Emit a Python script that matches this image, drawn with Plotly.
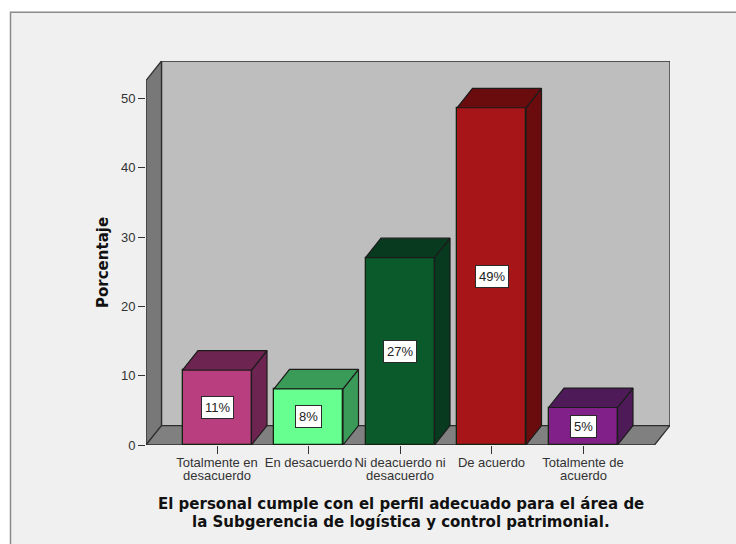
import plotly.graph_objects as go

categories = ["Totalmente en", "En desacuerdo", "Ni deacuerdo ni", "De acuerdo", "Totalmente de"]
second_lines = ["desacuerdo", "", "desacuerdo", "", "acuerdo"]
values = [10.81, 8.11, 27.03, 48.65, 5.41]
labels = ["11%", "8%", "27%", "49%", "5%"]
front_colors = ["#b83e80", "#66ff90", "#0a5a2c", "#a81518", "#82208a"]
side_colors = ["#6e2450", "#3a9a58", "#073a1e", "#6a0c0e", "#4e1a58"]
y_ticks = [0, 10, 20, 30, 40, 50]

W, H = 736, 544
L, R, T, B = 146, 670, 60.5, 445.5
PX_PER_UNIT_Y = 6.95
PX_PER_CAT = 91.5
X0 = -(217 - L) / PX_PER_CAT
xr = [X0, X0 + (R - L) / PX_PER_CAT]
yr = [0, (B - T) / PX_PER_UNIT_Y]
DX = 15.5 / PX_PER_CAT
DY = 19.5 / PX_PER_UNIT_Y
BAR_W = 69 / PX_PER_CAT
xfront_end = xr[1] - DX

fig = go.Figure()

fig.add_bar(x=list(range(5)), y=values, width=BAR_W,
            marker=dict(color=front_colors, line=dict(color="#12240f", width=1.3)),
            showlegend=False, hoverinfo="skip")

for i, v in enumerate(values):
    xa, xb = i - BAR_W / 2, i + BAR_W / 2
    fig.add_scatter(x=[xb, xb + DX, xb + DX, xb, xb], y=[0, DY, v + DY, v, 0],
                    mode="lines", fill="toself", fillcolor=side_colors[i],
                    line=dict(color="#1c1c1c", width=1.2), showlegend=False, hoverinfo="skip")
    fig.add_scatter(x=[xa, xa + DX, xb + DX, xb, xa], y=[v, v + DY, v + DY, v, v],
                    mode="lines", fill="toself", fillcolor=side_colors[i],
                    line=dict(color="#1c1c1c", width=1.2), showlegend=False, hoverinfo="skip")

shapes = [
    # page panel (runs off the right and bottom of the picture)
    dict(type="rect", xref="paper", yref="paper", x0=-(L - 10.5) / (R - L), x1=(745 - L) / (R - L),
         y0=-(555 - B) / (B - T), y1=(B - 11.5) / (B - T), layer="below",
         fillcolor="#f0f0f0", line=dict(color="#8a8a8a", width=1.5)),
    # back wall
    dict(type="rect", x0=xr[0] + DX, x1=xr[1], y0=DY, y1=yr[1], layer="below",
         fillcolor="#bebebe", line=dict(color="#2e2e2e", width=1.3)),
    # left wall
    dict(type="path", path=f"M{xr[0]},0 L{xr[0]+DX},{DY} L{xr[0]+DX},{yr[1]} L{xr[0]},{yr[1]-DY} Z",
         layer="below", fillcolor="#787878", line=dict(color="#2e2e2e", width=1.3)),
    # floor
    dict(type="path", path=f"M{xr[0]},0 L{xr[0]+DX},{DY} L{xr[1]},{DY} L{xfront_end},0 Z",
         layer="below", fillcolor="#808080", line=dict(color="#2e2e2e", width=1.3)),
]

ann = []
for i, v in enumerate(values):
    ann.append(dict(x=i, y=v / 2, text=labels[i], showarrow=False, bgcolor="white",
                    bordercolor="#2a2a2a", borderwidth=1, borderpad=3,
                    font=dict(family="Liberation Sans", size=13, color="#222222")))
    if second_lines[i]:
        ann.append(dict(x=i, xref="x", y=-(476 - B) / (B - T), yref="paper", text=second_lines[i],
                        showarrow=False, xanchor="center", yanchor="middle",
                        font=dict(family="Liberation Sans", size=13, color="#333333")))

title_font = dict(family="DejaVu Sans", size=15, color="#111111")
for line, ypx in [("<b>El personal cumple con el perfil adecuado para el área de</b>", 505),
                  ("<b>la Subgerencia de logística y control patrimonial.</b>", 523)]:
    ann.append(dict(x=(400.5 - L) / (R - L), xref="paper", y=-(ypx - B) / (B - T), yref="paper",
                    text=line, showarrow=False, xanchor="center", yanchor="middle", font=title_font))
ann.append(dict(x=(103 - L) / (R - L), xref="paper", y=(B - 263) / (B - T), yref="paper",
                text="<b>Porcentaje</b>", textangle=-90, showarrow=False, xanchor="center",
                yanchor="middle", font=title_font))

fig.update_layout(
    width=W, height=H, autosize=False, paper_bgcolor="white", plot_bgcolor="rgba(0,0,0,0)",
    margin=dict(l=L, r=W - R, t=T, b=H - B, autoexpand=False),
    showlegend=False, shapes=shapes, annotations=ann, bargap=0,
    xaxis=dict(range=xr, tickmode="array", tickvals=list(range(5)), ticktext=categories,
               ticks="outside", ticklen=8, tickwidth=1.3, tickcolor="#333333", showgrid=False, zeroline=False,
               showline=False, tickangle=0, ticklabelstandoff=-3,
               tickfont=dict(family="Liberation Sans", size=13, color="#333333")),
    yaxis=dict(range=yr, tickmode="array", tickvals=y_ticks, ticks="outside", ticklen=7, tickwidth=1.3,
               tickcolor="#333333", showgrid=False, zeroline=False, showline=False,
               tickfont=dict(family="Liberation Sans", size=13, color="#333333")),
)

fig.write_html("out.html", config=dict(displayModeBar=False),
               post_script="document.body.style.margin='0';document.documentElement.style.overflow='hidden';")
